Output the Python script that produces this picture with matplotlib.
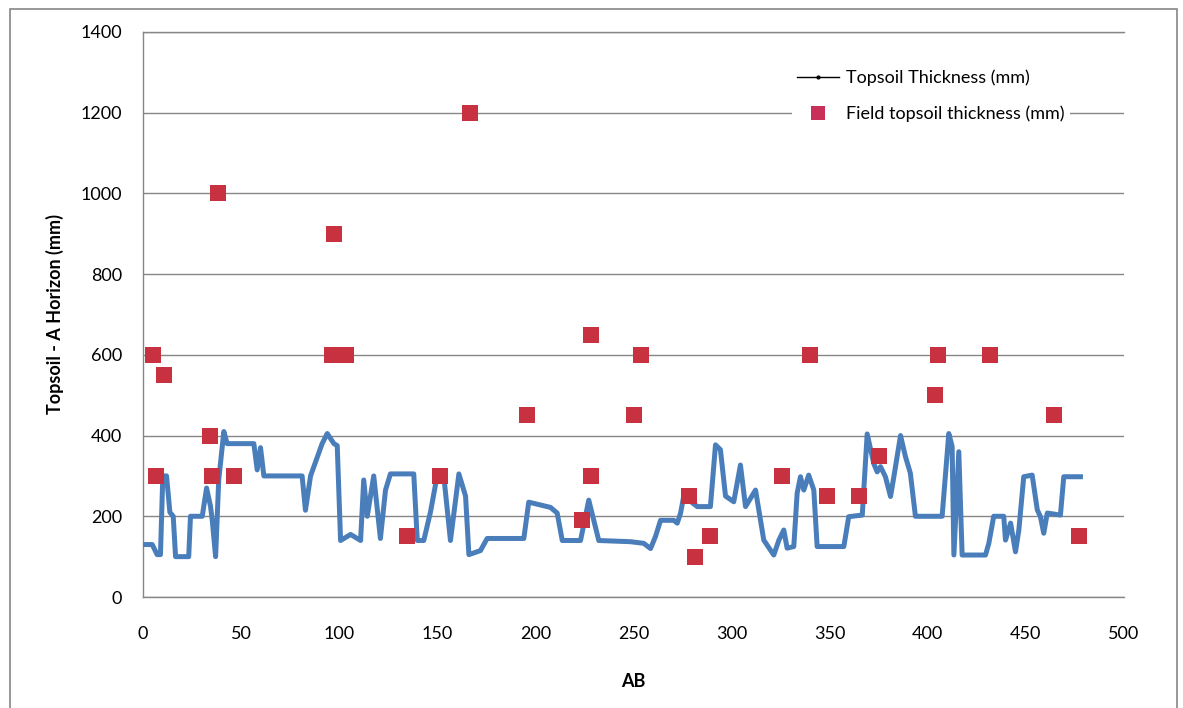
import matplotlib
matplotlib.use("Agg")
import matplotlib.pyplot as plt
from matplotlib.lines import Line2D
from matplotlib.patches import Rectangle

plt.rcParams['font.family'] = ['Lato', 'DejaVu Sans']

# Modelled topsoil thickness along the alignment (AB chainage)
line_x = [1, 4.7, 7.2, 8.9, 10.1, 12, 13.7, 15.4, 16.6, 23.3, 24.2, 30.2, 32.4, 34.4, 35.3,
          37, 38.6, 41.2, 42.9, 56.5, 58.2, 59.9, 61.6, 81.1, 82.8, 85.4, 91.3, 93.9, 97.3,
          99, 100.7, 105.8, 110.9, 112.5, 114.3, 117.6, 121, 123.6, 126.1, 138, 139.8, 143.1,
          146.5, 149.9, 153.3, 156.7, 161, 164.4, 166.1, 172, 175.4, 194.1, 196.6, 202.6,
          207.7, 211.1, 213.7, 223, 227.2, 232.3, 248.5, 255.2, 258.7, 261.2, 263.8, 270.5,
          272.3, 274, 275.6, 282.5, 289.2, 291.8, 294.3, 296.9, 301.1, 304.5, 307.1, 312.2,
          314.7, 316.4, 321.5, 324.1, 326.6, 328.3, 331.7, 333.4, 335.1, 336.8, 339.3, 341.9,
          343.6, 357.2, 359.7, 366.6, 369.1, 372.5, 374.2, 375.9, 378.4, 381, 382.7, 386.1,
          388.6, 391.1, 393.7, 407.3, 410.7, 412.4, 413.3, 415.8, 417.5, 429.4, 431.1, 433.6,
          438.7, 439.6, 442.2, 444.7, 446.4, 448.9, 453.2, 455.8, 457.4, 459.1, 460.9, 467.6,
          469.3, 477.8]
line_y = [130, 130, 105, 105, 300, 300, 210, 200, 100, 100, 200, 200, 270, 225, 190,
          100, 290, 410, 380, 380, 315, 370, 300, 300, 215, 300, 380, 405, 380,
          375, 140, 155, 140, 290, 200, 300, 145, 265, 305, 305, 140, 140,
          210, 300, 300, 140, 305, 250, 105, 115, 145, 145, 235, 228,
          222, 208, 140, 140, 240, 140, 137, 133, 120, 150, 190, 190,
          183, 208, 250, 224, 224, 377, 365, 250, 236, 327, 224, 265,
          191, 141, 104, 141, 166, 121, 125, 257, 298, 265, 302, 265,
          125, 125, 199, 203, 404, 330, 310, 323, 298, 249, 298, 400,
          348, 307, 200, 200, 405, 373, 104, 360, 104, 104, 133, 200,
          200, 141, 183, 112, 166, 298, 302, 216, 199, 158, 208, 203,
          298, 298]

# Field-measured topsoil thickness
field_x = [5.2, 6.4, 10.6, 34.4, 35.3, 38.1, 46.3, 96.3, 97.3, 103.5, 134.7, 151.6, 166.9,
           195.8, 223.9, 228.4, 228.1, 250.2, 253.6, 278.2, 281.6, 289.2, 325.8, 340.2,
           348.7, 364.8, 375, 403.9, 405.3, 431.5, 464.5, 477]
field_y = [600, 300, 550, 400, 300, 1000, 300, 600, 900, 600, 150, 300, 1200,
           450, 190, 650, 300, 450, 600, 250, 100, 150, 300, 600,
           250, 250, 350, 500, 600, 600, 450, 150]

y_ticks = [0, 200, 400, 600, 800, 1000, 1200, 1400]
x_ticks = [0, 50, 100, 150, 200, 250, 300, 350, 400, 450, 500]

W, H = 1183, 708
fig = plt.figure(figsize=(W / 100, H / 100), dpi=100)
ax = fig.add_axes([143 / W, 1 - 597 / H, (1124 - 143) / W, (597 - 32) / H])

grid_c = '#868686'
ax.plot(line_x, line_y, color='#4A7EBB', lw=3.6, solid_joinstyle='round', zorder=3)
ax.plot(field_x, field_y, ls='none', marker='s', ms=11.5, color='#C8313F',
        markeredgewidth=0, zorder=4)

ax.set_xlim(0, 500)
ax.set_ylim(0, 1400)
ax.set_xticks(x_ticks)
ax.set_yticks(y_ticks)
ax.yaxis.grid(True, color=grid_c, lw=1)
ax.set_axisbelow(True)
ax.tick_params(axis='both', length=0, labelsize=13, colors='black')
ax.tick_params(axis='y', pad=15)
ax.tick_params(axis='x', pad=21)
for s in ['left', 'bottom', 'top']:
    ax.spines[s].set_color(grid_c)
    ax.spines[s].set_linewidth(1)
ax.spines['right'].set_visible(False)

ax.set_xlabel('AB', fontsize=13, fontweight='bold', labelpad=22)
ax.set_ylabel('Topsoil - A Horizon (mm)', fontsize=13, fontweight='bold', labelpad=12)

h_line = Line2D([], [], color='black', lw=1, marker='o', ms=2)
h_pts = Line2D([], [], ls='none', marker='s', ms=10, color='#C8305A', markeredgewidth=0)
leg = ax.legend([h_line, h_pts], ['Topsoil Thickness (mm)', 'Field topsoil thickness (mm)'],
                loc='upper left', bbox_to_anchor=(783 / W, 1 - 55 / H),
                bbox_transform=fig.transFigure, frameon=True, fontsize=13,
                handlelength=2.3, handletextpad=0.4, labelspacing=1.1, borderpad=0.3)
leg.get_frame().set_facecolor('white')
leg.get_frame().set_edgecolor('none')
leg.get_frame().set_alpha(1)

fig.patches.append(Rectangle((10 / W, -0.01), (1177 - 10) / W, 1.01 - 9 / H + 0.0,
                             transform=fig.transFigure, fill=False,
                             edgecolor=grid_c, lw=1.2))

fig.savefig('out.png', dpi=100)
